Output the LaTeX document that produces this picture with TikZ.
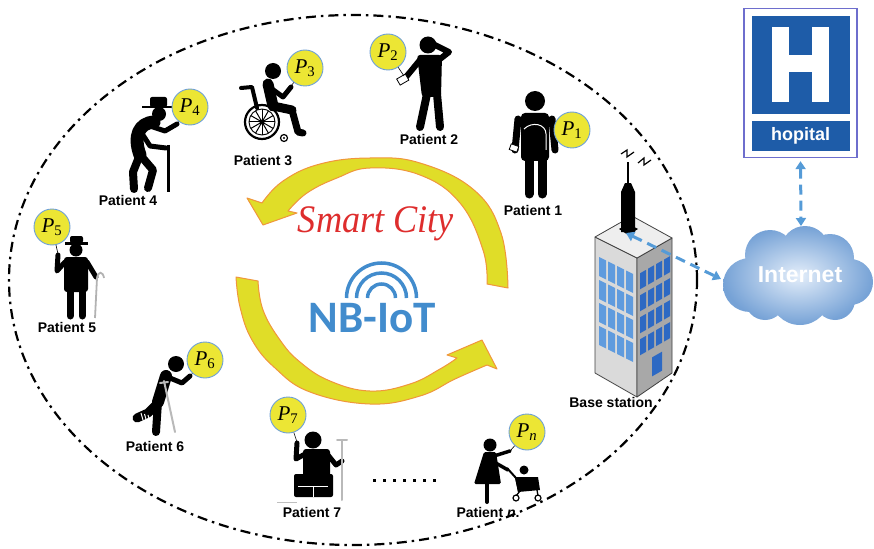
\documentclass[tikz,border=0pt]{standalone}
\usepackage{fontspec}
\setmainfont{Liberation Serif}
\newfontfamily\arialf{Liberation Sans}
\newfontfamily\calib{Carlito}
\usetikzlibrary{arrows.meta}
\definecolor{ballyellow}{RGB}{236,230,52}
\definecolor{ballrim}{RGB}{110,160,215}
\definecolor{arrowyellow}{RGB}{224,221,40}
\definecolor{arrowedge}{RGB}{240,150,60}
\definecolor{smartred}{RGB}{222,45,45}
\definecolor{iotblue}{RGB}{66,140,205}
\definecolor{linkblue}{RGB}{85,155,215}
\definecolor{hospblue}{RGB}{30,92,168}
\definecolor{hospframe}{RGB}{110,110,205}
\definecolor{winlight}{RGB}{95,155,222}
\definecolor{windark}{RGB}{45,105,195}
\definecolor{wallleft}{RGB}{218,218,218}
\definecolor{wallright}{RGB}{168,168,168}
\definecolor{walltop}{RGB}{238,238,238}
\definecolor{cloudin}{RGB}{228,238,250}
\definecolor{cloudout}{RGB}{118,162,214}
\begin{document}
\begin{tikzpicture}[x=1pt,y=-1pt,
  lbl/.style={font=\arialf\bfseries\fontsize{14}{16}\selectfont, inner sep=0pt, anchor=base},
  pball/.style={circle, minimum size=36pt, inner sep=0pt, fill=ballyellow, draw=ballrim,
                line width=0.9pt, font=\fontsize{21}{21}\selectfont},
  limb/.style={draw=black, line cap=round, line join=round, line width=#1},
  limb/.default=7pt,
  string/.style={draw=black, line width=0.6pt},
  crutch/.style={draw=gray!55, line width=2pt, line cap=round},
  bigarrow/.style={fill=arrowyellow, draw=arrowedge, line width=1pt, line join=round},
  link/.style={draw=linkblue, line width=3pt, dash pattern=on 10pt off 6pt,
               {Triangle[width=10pt,length=8pt]}-{Triangle[width=10pt,length=8pt]}},
  wall/.style={draw=black!75, line width=0.8pt, line join=round},
]
\useasboundingbox (0,0) rectangle (874,548);

% coverage area of the base station
\draw[line width=2.2pt, dash pattern=on 10pt off 5pt on 2.5pt off 5pt]
  (353,280) ellipse [x radius=344pt, y radius=265pt];

% ---------- circulating arrows ----------
\filldraw[bigarrow] plot[smooth, tension=0.7] coordinates
  {(508,288) (501,233) (474,190) (420,163) (370,158) (320,164) (283,181) (262,203)}
  -- (247,198) -- (263,225) -- (297,213)
  -- plot[smooth, tension=0.7] coordinates
  {(288,211) (307,193) (337,178) (370,168) (420,175) (460,203) (483,250) (487,284)}
  -- cycle;
\filldraw[bigarrow] plot[smooth, tension=0.7] coordinates
  {(236,277) (240,307) (252,340) (275,368) (310,392) (370,404) (420,396) (455,379) (487,365)}
  -- (497,369) -- (482,340) -- (447,355)
  -- plot[smooth, tension=0.7] coordinates
  {(457,358) (440,369) (410,384) (370,391) (330,381) (300,362) (280,340) (263,310) (258,281)}
  -- cycle;

\node[font=\itshape\fontsize{39}{39}\selectfont, text=smartred, inner sep=0pt, anchor=base, xscale=0.93]
  (smart) at (376,232) {Smart City};
\foreach \r in {14,25,35}
  \draw[iotblue, line width=3.5pt] (381.5+\r,298) arc[start angle=0, end angle=180, radius=\r pt];
\node[font=\calib\bfseries\fontsize{45}{45}\selectfont, text=iotblue, inner sep=0pt, anchor=base]
  (nbiot) at (372,332) {NB-IoT};

% ---------- Patient 1 ----------
\fill (535,101) circle (10pt);
\fill[rounded corners=4pt] (521,113) rectangle (549,161);
\draw[limb=7pt] (518,119) -- (515,150);
\draw[limb=7pt] (552,119) -- (555,150);
\draw[limb=9pt] (529,160) -- (529,194);
\draw[limb=9pt] (542,160) -- (542,194);
\draw[white, line width=1pt] (524,129) .. controls (532,121) and (546,124) .. (546,134) -- (546,150);
\draw[fill=white, line width=0.8pt, rotate around={-20:(514,148)}] (510,145) rectangle (518,151);
\node[pball] (ball1) at (572,130) {\itshape P\textsubscript{\upshape 1}};
\node[lbl] (lbl1) at (533,215) {Patient 1};

% ---------- Patient 2 ----------
\fill (428,45) circle (8.5pt);
\fill[rounded corners=3pt] (417,55) -- (442,55) -- (441,97) -- (422,97) -- cycle;
\draw[limb=8pt] (427,94) -- (420,127);
\draw[limb=8pt] (437,94) -- (440,127);
\draw[limb=6pt] (440,59) -- (449,52) -- (433,44);
\draw[limb=6pt] (420,60) -- (411,71) -- (406,77);
\draw[fill=white, line width=0.8pt, rotate around={30:(403,80)}] (398,76) rectangle (408,83);
\coordinate (hand2) at (404,76);
\node[pball] (ball2) at (388,52) {\itshape P\textsubscript{\upshape 2}};
\draw[string] (ball2) -- (hand2);
\node[lbl] (lbl2) at (429,145) {Patient 2};

% ---------- Patient 3 (wheelchair) ----------
\draw[line width=2.2pt] (262,122) circle (17pt);
\draw[line width=0.9pt] (262,122) circle (13pt);
\foreach \a in {0,30,...,330} \draw[line width=1pt] (262,122) -- ++(\a:13pt);
\fill (262,122) circle (2.5pt);
\draw[limb=4pt] (241,88) -- (252,87) -- (257,108);
\fill (273,71) circle (8pt);
\draw[limb=11pt] (268,84) -- (273,106);
\draw[limb=5pt] (272,89) -- (283,97) -- (291,87);
\draw[limb=9pt] (273,106) -- (292,110);
\draw[limb=7pt] (292,110) -- (298,132) -- (303,133);
\draw[line width=1.2pt] (284,138) circle (3.5pt);
\fill (284,138) circle (1.2pt);
\coordinate (hand3) at (291,86);
\node[pball] (ball3) at (305,68) {\itshape P\textsubscript{\upshape 3}};
\draw[string] (ball3) -- (hand3);
\node[lbl] (lbl3) at (263,165) {Patient 3};

% ---------- Patient 4 (old man with cane) ----------
\fill (142,106) rectangle (174,108.5);
\fill[rounded corners=2pt] (150,97) rectangle (167,107);
\fill (159,114) circle (7pt);
\draw[limb=13pt] (154,122) .. controls (139,123) and (133,136) .. (140,155);
\draw[limb=5pt] (150,126) -- (165,131) -- (177,124);
\draw[limb=5pt] (141,132) -- (150,146) -- (166,148);
\draw[line width=3pt] (168,145) -- (168,192);
\draw[limb=8pt] (141,156) -- (153,170) -- (148,188);
\draw[limb=8pt] (139,157) -- (133,172) -- (134,189);
\coordinate (hand4) at (177,124);
\node[pball] (ball4) at (190,107) {\itshape P\textsubscript{\upshape 4}};
\draw[string] (ball4) -- (hand4);
\node[lbl] (lbl4) at (128,205) {Patient 4};

% ---------- Patient 5 (blind man) ----------
\fill (65,242) rectangle (88,244.5);
\fill[rounded corners=2pt] (70,236) rectangle (83,243);
\fill (76,250) circle (6.5pt);
\fill[rounded corners=3pt] (64,257) rectangle (88,292);
\draw[limb=7pt] (70,290) -- (70,316);
\draw[limb=7pt] (82,290) -- (82,316);
\draw[limb=5pt] (65,262) -- (57,271) -- (58,255);
\draw[limb=5pt] (87,262) -- (96,277);
\draw[draw=gray!60, line width=1.8pt] (95,318) -- (97,278) .. controls (98,271) and (103,271) .. (104,278);
\coordinate (hand5) at (58,254);
\node[pball] (ball5) at (52,227) {\itshape P\textsubscript{\upshape 5}};
\draw[string] (ball5) -- (hand5);
\node[lbl] (lbl5) at (67,332) {Patient 5};

% ---------- Patient 6 (crutch, leg in cast) ----------
\fill (176,364) circle (8pt);
\draw[limb=12pt] (166,376) -- (158,402);
\draw[limb=5pt] (170,378) -- (182,383) -- (190,376);
\draw[limb=8pt] (158,402) -- (156,432);
\draw[limb=9pt] (157,404) -- (148,413) -- (137,418);
\foreach \s in {0,1,2} \draw[white, line width=1pt] (141+3.5*\s,413+1*\s) -- ++(2,7);
\draw[crutch] (164,381) -- (175,432);
\draw[crutch] (160,383) -- (168,382);
\coordinate (hand6) at (190,376);
\node[pball] (ball6) at (205,360) {\itshape P\textsubscript{\upshape 6}};
\draw[string] (ball6) -- (hand6);
\node[lbl] (lbl6) at (155,451) {Patient 6};

% ---------- Patient 7 (seated, with crutch) ----------
\fill (313,440) circle (8.5pt);
\fill[rounded corners=3pt] (303,449) rectangle (330,480);
\fill[rounded corners=2pt] (294,474) rectangle (333,497);
\draw[white, line width=0.8pt] (298,486) -- (328,486) (313,486) -- (313,497);
\draw[limb=5pt] (305,454) -- (296,459) -- (297,443);
\draw[limb=5pt] (328,455) -- (336,465) -- (342,461);
\draw[crutch] (342,441) -- (342,500);
\draw[crutch] (337,440) -- (347,440);
\draw[gray!50, line width=0.8pt] (277,502) -- (297,502);
\coordinate (hand7) at (297,442);
\node[pball] (ball7) at (288,415) {\itshape P\textsubscript{\upshape 7}};
\draw[string] (ball7) -- (hand7);
\node[lbl] (lbl7) at (312,517) {Patient 7};

% ---------- ellipsis between patients ----------
\foreach \k in {0,...,6} \fill (372.5+10*\k,478.5) rectangle ++(3.2,3.2);

% ---------- Patient n (mother with stroller) ----------
\fill (490,445) circle (6.5pt);
\fill[rounded corners=1.5pt] (484,452) -- (496,452) -- (501,484) -- (474,484) -- cycle;
\draw[limb=4pt] (487,484) -- (487,502);
\draw[limb=3.5pt] (494,456) -- (510,451);
\draw[limb=3.5pt] (494,462) -- (508,470);
\draw[line width=2pt, line join=round] (507,468) -- (516,478) -- (519,492);
\fill (515,477) -- (538,477) -- (540,490) -- (518,492) -- cycle;
\fill (524,470) circle (4.5pt);
\draw[line width=1.3pt] (520,491) -- (516,496) (537,490) -- (538,496);
\draw[line width=1.2pt, fill=white] (516,498) circle (3pt);
\draw[line width=1.2pt, fill=white] (538,498) circle (3pt);
\coordinate (hand8) at (510,451);
\node[pball] (balln) at (527,432) {\itshape P\textsubscript{n}};
\draw[string] (balln) -- (hand8);
\node[lbl] (lbln) at (488,517) {Patient \textit{n}.};

% ---------- base station ----------
\filldraw[wall, fill=wallleft] (595,237) -- (637,258) -- (637,397) -- (595,373) -- cycle;
\filldraw[wall, fill=wallright] (637,258) -- (672,238) -- (672,373) -- (637,397) -- cycle;
\filldraw[wall, fill=walltop] (595,237) -- (632,216) -- (672,238) -- (637,258) -- cycle;
\foreach \v in {18,41,64,87}
  \foreach \u in {4,13,22,31}
    \fill[winlight] ({595+\u},{237+0.5*\u+\v}) -- ++(7,3.5) -- ++(0,19) -- ++(-7,-3.5) -- cycle;
\foreach \v in {17,39,61,83}
  \foreach \u in {3,11,19,27}
    \fill[windark] ({637+\u},{258-0.571*\u+\v}) -- ++(6,-3.43) -- ++(0,16) -- ++(-6,3.43) -- cycle;
\fill[windark] (652,357.4) -- ++(10,-5.71) -- ++(0,19) -- ++(-10,5.71) -- cycle;
% mast and antenna
\fill (619,229) -- (628,224) -- (638,229) -- (628,235) -- cycle;
\fill (621,232) -- (621,192) -- (625,183) -- (631,183) -- (635,192) -- (635,232) -- cycle;
\draw[line width=1.6pt] (628,184) -- (628,162);
\draw[line width=1.2pt] (621,154) -- (627,150) -- (627,157) -- (634,152);
\draw[line width=1.2pt] (638,163) -- (644,158) -- (644,165) -- (651,160);
\node[lbl] (bslbl) at (611,407) {Base station};

% ---------- Internet cloud ----------
\shade[inner color=cloudin, outer color=cloudout]
  (750,285) circle (27pt) (770,255) circle (25pt) (805,250) circle (24pt)
  (830,258) circle (24pt) (850,282) circle (23pt) (800,295) circle (30pt)
  (835,300) circle (20pt) (765,300) circle (20pt) (800,270) circle (30pt);
\node[font=\arialf\bfseries\fontsize{23}{23}\selectfont, text=white, inner sep=0pt]
  (inet) at (800,275) {Internet};
\coordinate (cloudW) at (721,279);
\coordinate (cloudN) at (801,226);

% ---------- hospital sign ----------
\node[draw=hospframe, line width=1.3pt, fill=white, minimum width=113pt, minimum height=149pt,
      inner sep=0pt] (hosp) at (800.5,83) {};
\fill[hospblue] (752,16) rectangle (850,114);
\fill[hospblue] (752,121) rectangle (850,151);
\fill[white] (772,27) rectangle (789,102);
\fill[white] (812,27) rectangle (829,102);
\fill[white] (789,55) rectangle (812,72);
\node[font=\arialf\bfseries\fontsize{18}{18}\selectfont, text=white, inner sep=0pt, anchor=base]
  (hoptxt) at (800.5,141) {hopital};

% ---------- links ----------
\coordinate (bsTop) at (626,233);
\draw[link] (bsTop) -- (cloudW);
\draw[link, shorten <=3pt] (hosp.south) -- (cloudN);
\end{tikzpicture}
\end{document}
